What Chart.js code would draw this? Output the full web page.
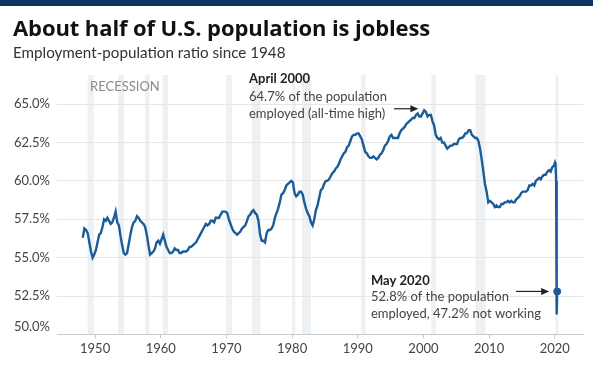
<!DOCTYPE html>
<html>
<head>
<meta charset="utf-8">
<script src="https://cdn.jsdelivr.net/npm/chart.js@4/dist/chart.umd.min.js"></script>
<style>
  html, body { margin: 0; padding: 0; background: #fff; }
  body { width: 593px; height: 368px; position: relative; overflow: hidden; font-family: Lato, "Open Sans", sans-serif; }
  #topbar { position: absolute; left: 0; top: 0; width: 593px; height: 6px; background: #0c3563; }
  #title { position: absolute; left: 13px; top: 12px; font-family: "Open Sans", Lato, sans-serif; font-size: 22px; font-weight: 700; color: #111; white-space: nowrap; letter-spacing: -0.1px; }
  #subtitle { position: absolute; left: 13px; top: 43px; font-size: 15.2px; color: #333; white-space: nowrap; }
  #wrap { position: absolute; left: 0; top: 0; width: 593px; height: 368px; }
</style>
</head>
<body>
<div id="wrap"><canvas id="myChart" width="593" height="368"></canvas></div>
<div id="topbar"></div>
<div id="title">About half of U.S. population is jobless</div>
<div id="subtitle">Employment-population ratio since 1948</div>
<script>
// quarterly employment-population ratio, 1948 Q1 .. 2019 Q4
var startYear = 1948;
var ratio = [
  56.3, 56.9, 56.8, 56.6,  // 1948
  56.0, 55.4, 55.0, 55.2,
  55.5, 56.0, 56.5, 56.6,  // 1950
  57.0, 57.5, 57.4, 57.6,
  57.4, 57.2, 57.3, 57.6,
  58.0, 57.3, 57.1, 56.4,
  55.8, 55.3, 55.2, 55.3,
  55.9, 56.5, 57.0, 57.3,
  57.4, 57.7, 57.6, 57.4,
  57.3, 57.2, 57.0, 56.5,
  55.8, 55.2, 55.3, 55.4,
  55.6, 56.0, 56.1, 55.9,
  56.2, 56.5, 56.1, 55.7,  // 1960
  55.5, 55.3, 55.3, 55.4,
  55.6, 55.5, 55.5, 55.3,
  55.3, 55.4, 55.4, 55.4,
  55.5, 55.7, 55.7, 55.8,
  55.9, 56.0, 56.2, 56.4,
  56.6, 56.8, 57.0, 57.2,
  57.1, 57.2, 57.4, 57.4,
  57.3, 57.6, 57.6, 57.6,
  57.8, 58.0, 58.0, 58.0,
  57.9, 57.5, 57.2, 56.9,  // 1970
  56.7, 56.6, 56.5, 56.6,
  56.7, 56.9, 57.0, 57.1,
  57.4, 57.7, 57.8, 58.0,
  58.1, 57.9, 57.8, 57.4,
  56.5, 56.1, 56.1, 56.0,
  56.6, 56.8, 56.8, 56.9,
  57.1, 57.6, 57.9, 58.2,
  58.6, 59.1, 59.2, 59.4,
  59.7, 59.8, 59.9, 60.0,
  59.9, 59.2, 59.0, 59.1,  // 1980
  59.3, 59.3, 59.1, 58.6,
  58.2, 57.9, 57.7, 57.3,
  57.1, 57.5, 58.1, 58.4,
  58.9, 59.4, 59.5, 59.8,
  60.0, 60.0, 60.1, 60.3,
  60.5, 60.6, 60.8, 60.9,
  61.1, 61.4, 61.6, 61.8,
  61.9, 62.2, 62.3, 62.6,
  62.9, 63.0, 63.0, 63.1,
  63.1, 62.9, 62.7, 62.3,  // 1990
  61.9, 61.8, 61.6, 61.5,
  61.5, 61.6, 61.5, 61.4,
  61.5, 61.7, 61.8, 62.0,
  62.3, 62.4, 62.6, 62.9,
  63.0, 62.8, 62.8, 62.8,
  62.8, 63.1, 63.3, 63.4,
  63.5, 63.7, 63.8, 63.9,
  64.0, 64.1, 64.1, 64.3,
  64.4, 64.2, 64.2, 64.4,
  64.6, 64.5, 64.2, 64.3,  // 2000
  64.3, 63.9, 63.6, 63.0,
  62.8, 62.7, 62.8, 62.5,
  62.5, 62.3, 62.1, 62.2,
  62.3, 62.3, 62.4, 62.4,
  62.4, 62.7, 62.8, 62.8,
  62.9, 63.1, 63.1, 63.3,
  63.3, 63.0, 62.9, 62.8,
  62.8, 62.6, 62.1, 61.4,
  60.6, 59.8, 59.3, 58.6,
  58.7, 58.6, 58.5, 58.3,  // 2010
  58.4, 58.3, 58.3, 58.5,
  58.5, 58.6, 58.6, 58.7,
  58.6, 58.7, 58.6, 58.6,
  58.8, 58.9, 59.0, 59.2,
  59.3, 59.3, 59.3, 59.4,
  59.7, 59.7, 59.8, 59.7,
  60.0, 60.1, 60.2, 60.1,
  60.3, 60.4, 60.4, 60.6,
  60.7, 60.6, 60.9, 61.0   // 2019
];
// 2020 monthly, Jan..May
var months2020 = [2020.04, 2020.12, 2020.21, 2020.29, 2020.37];
var ratio2020 = [61.2, 61.1, 60.0, 51.3, 52.8];

// recessions (start, end) as decimal years
var recessionStart = [1948.87, 1953.5, 1957.6, 1960.3, 1969.95, 1973.87, 1980.0, 1981.5, 1990.5, 2001.2, 2007.92, 2020.1];
var recessionEnd   = [1949.8, 1954.4, 1958.3, 1961.1, 1970.87, 1975.2, 1980.5, 1982.87, 1991.2, 2001.87, 2009.45, 2020.3];

var yTicks = [50, 52.5, 55, 57.5, 60, 62.5, 65];
var xTicks = [1950, 1960, 1970, 1980, 1990, 2000, 2010, 2020];

var points = [];
for (var i = 0; i < ratio.length; i++) {
  var yr = startYear + Math.floor(i / 4) + ((i % 4) * 3 + 1.5) / 12;
  points.push({x: yr, y: ratio[i]});
}
for (var j = 0; j < months2020.length; j++) {
  points.push({x: months2020[j], y: ratio2020[j]});
}

var FONT = 'Lato, "Open Sans", sans-serif';

var recessionBands = {
  id: 'recessionBands',
  beforeDraw: function(chart) {
    var ctx = chart.ctx, xs = chart.scales.x, area = chart.chartArea;
    ctx.save();
    ctx.fillStyle = '#edf1f3';
    for (var i = 0; i < recessionStart.length; i++) {
      var a = xs.getPixelForValue(recessionStart[i]);
      var b = xs.getPixelForValue(recessionEnd[i]);
      ctx.fillRect(a, area.top, Math.max(b - a, 3), area.bottom - area.top);
    }
    ctx.fillStyle = '#8a8a8a';
    ctx.font = '13px ' + FONT;
    ctx.textBaseline = 'middle';
    ctx.fillText('RECESSION', 90, 87);
    ctx.restore();
  }
};

function arrow(ctx, x1, y, x2) {
  ctx.beginPath();
  ctx.moveTo(x1, y);
  ctx.lineTo(x2 - 6, y);
  ctx.strokeStyle = '#222';
  ctx.lineWidth = 1.2;
  ctx.stroke();
  ctx.beginPath();
  ctx.moveTo(x2, y);
  ctx.lineTo(x2 - 8, y - 3.5);
  ctx.lineTo(x2 - 8, y + 3.5);
  ctx.closePath();
  ctx.fillStyle = '#222';
  ctx.fill();
}

var notes = {
  id: 'notes',
  afterDatasetsDraw: function(chart) {
    var ctx = chart.ctx, xs = chart.scales.x, ys = chart.scales.y;
    ctx.save();
    ctx.textBaseline = 'middle';
    ctx.textAlign = 'left';
    // April 2000 peak
    ctx.fillStyle = '#222';
    ctx.font = 'bold 13px ' + FONT;
    ctx.fillText('April 2000', 249, 79);
    ctx.fillStyle = '#444';
    ctx.font = '13px ' + FONT;
    ctx.fillText('64.7% of the population', 249, 97);
    ctx.fillText('employed (all-time high)', 249, 114);
    arrow(ctx, 394, ys.getPixelForValue(64.7), xs.getPixelForValue(2000.3) - 7);
    // May 2020
    ctx.fillStyle = '#222';
    ctx.font = 'bold 13px ' + FONT;
    ctx.fillText('May 2020', 371, 281);
    ctx.fillStyle = '#444';
    ctx.font = '13px ' + FONT;
    ctx.fillText('52.8% of the population', 371, 297);
    ctx.fillText('employed, 47.2% not working', 371, 314);
    arrow(ctx, 516, ys.getPixelForValue(52.8), xs.getPixelForValue(2020.37) - 8);
    ctx.restore();
  }
};

var ctx = document.getElementById('myChart').getContext('2d');
var myLineChart = new Chart(ctx, {
  type: 'line',
  data: {
    datasets: [{
      data: points,
      borderColor: '#1b5c98',
      borderWidth: 2.4,
      pointRadius: 0,
      tension: 0
    }, {
      data: [{x: 2020.37, y: 52.8}],
      borderColor: '#1b5c98',
      backgroundColor: '#1b5c98',
      pointRadius: 3.5,
      showLine: false
    }]
  },
  options: {
    responsive: false,
    animation: false,
    events: [],
    layout: { padding: { left: 0, right: 10, top: 75, bottom: 8 } },
    plugins: { legend: { display: false }, tooltip: { enabled: false } },
    scales: {
      x: {
        type: 'linear',
        min: 1944.2,
        max: 2024.3,
        afterBuildTicks: function(scale) {
          scale.ticks = xTicks.map(function(v) { return {value: v}; });
        },
        grid: { drawOnChartArea: false, drawTicks: true, tickLength: 4, color: '#c5cacd' },
        border: { color: '#c5cacd' },
        ticks: {
          padding: 3,
          color: '#444',
          font: { family: FONT, size: 13 },
          callback: function(v) { return String(v); }
        }
      },
      y: {
        min: 50,
        max: 66.9,
        afterBuildTicks: function(scale) {
          scale.ticks = yTicks.map(function(v) { return {value: v}; });
        },
        afterFit: function(scale) { scale.width = 57; },
        grid: { color: '#e6e6e6', drawTicks: false },
        border: { display: false },
        ticks: {
          padding: 7,
          color: '#444',
          font: { family: FONT, size: 13 },
          callback: function(v) {
            var s = v.toFixed(1) + '%';
            return v === 50 ? [s, ''] : s;
          }
        }
      }
    }
  },
  plugins: [recessionBands, notes]
});
</script>
</body>
</html>
